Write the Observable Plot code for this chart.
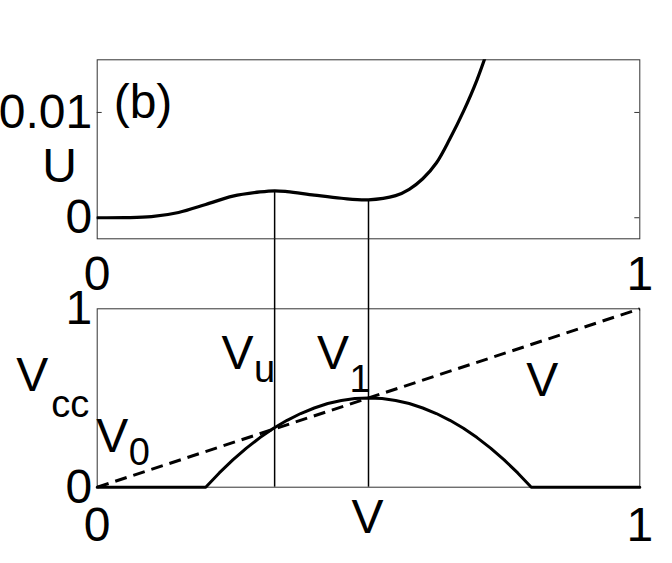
<!DOCTYPE html>
<html>
<head>
<meta charset="utf-8">
<script src="https://cdn.jsdelivr.net/npm/d3@7"></script>
<script src="https://cdn.jsdelivr.net/npm/@observablehq/plot@0.6"></script>
<style>
  body { margin: 0; background: #fff; }
  #chart { position: relative; width: 672px; height: 563px; }
  #chart svg { position: absolute; left: 0; top: 0; }
</style>
</head>
<body>
<div id="chart"></div>
<script>
// ---- Data ----
// Top panel: potential U(V)
const uV = [0, 0.05, 0.1, 0.15, 0.2, 0.25, 0.3, 0.327, 0.35, 0.4, 0.45, 0.5, 0.55, 0.575, 0.6, 0.625, 0.65, 0.675, 0.7, 0.73];
const uU = [0, 0.00001, 0.0001, 0.0005, 0.00126, 0.00205, 0.00245, 0.00256, 0.00248, 0.00215, 0.00185, 0.0017, 0.0021, 0.0027, 0.0037, 0.0052, 0.0075, 0.0101, 0.0131, 0.0175];
// Extrema where the vertical guide lines are drawn (V_u, V_1)
const extremaV = [0.327, 0.5];
const extremaU = [0.00256, 0.0017];
// Bottom panel: V_cc(V) solid curve
const vccV = [0, 0.2, 0.225, 0.25, 0.275, 0.3, 0.325, 0.35, 0.375, 0.4, 0.425, 0.45, 0.475, 0.5, 0.525, 0.55, 0.575, 0.6, 0.625, 0.65, 0.675, 0.7, 0.725, 0.75, 0.775, 0.8, 1];
const vccY = [0, 0, 0.08, 0.153, 0.219, 0.278, 0.33, 0.375, 0.413, 0.444, 0.469, 0.486, 0.497, 0.5, 0.497, 0.486, 0.469, 0.444, 0.413, 0.375, 0.33, 0.278, 0.219, 0.153, 0.08, 0, 0];
// Bottom panel: dashed diagonal V_cc = V
const diagV = [0, 1];
const diagY = [0, 1];
// Axes
const topYDomain = [-0.002, 0.015];
const topYTicks = [0, 0.01];
const topYTickLabels = ["0", "0.01"];
const xTicks = [0, 1];
const xTickLabels = ["0", "1"];
const botYTicks = [0, 1];
const botYTickLabels = ["0", "1"];

// ---- Tables ----
const uData = uV.map((v, i) => ({V: v, U: uU[i]}));
const extrema = extremaV.map((v, i) => ({V: v, U: extremaU[i]}));
const vccData = vccV.map((v, i) => ({V: v, Vcc: vccY[i]}));
const diagData = diagV.map((v, i) => ({V: v, Vcc: diagY[i]}));

const font = '"Liberation Sans", Arial, Helvetica, sans-serif';
const W = 672, mL = 96.7, mR = 32.7;
const frameColor = "#333";
const svgStyle = {background: "transparent", fontFamily: font, fontSize: "48px", color: "#000", overflow: "visible"};

function label(t, anchor, dx, dy, size, textAnchor = "middle") {
  return Plot.text([t], {text: d => d, frameAnchor: anchor, dx, dy, fontSize: size,
    textAnchor, lineAnchor: "middle", fill: "#000", fontFamily: font});
}

const topPlot = Plot.plot({
  width: W, height: 300,
  marginLeft: mL, marginRight: mR, marginTop: 59.3, marginBottom: 61.7,
  style: svgStyle,
  x: {domain: [0, 1], ticks: xTicks, tickFormat: d => xTickLabels[xTicks.indexOf(d)], tickSize: 0, tickPadding: 17, label: null},
  y: {domain: topYDomain, ticks: topYTicks, tickFormat: d => topYTickLabels[topYTicks.indexOf(d)], tickSize: 0, tickPadding: 5, label: null},
  marks: [
    Plot.frame({stroke: frameColor, strokeWidth: 1}),
    Plot.ruleY(topYTicks, {x1: 0, x2: 0, insetRight: -5, stroke: frameColor}),
    Plot.ruleY(topYTicks, {x1: 1, x2: 1, insetLeft: -5, stroke: frameColor}),
    Plot.ruleX(extrema, {x: "V", y1: "U", y2: topYDomain[0], stroke: "#000", strokeWidth: 1.5}),
    Plot.line(uData, {x: "V", y: "U", curve: "catmull-rom", stroke: "#000", strokeWidth: 3.2, clip: true}),
    label("(b)", "top-left", 45.8, 42.7, 48),
    label("U", "left", -37.7, 17.2, 48)
  ]
});

// Subscripted labels: "main_sub" -> main text with a smaller, lowered tspan
const subShift = {
  "V_cc": [3, 26.4],
  "V_u": [0.5, 12.7],
  "V_1": [0.5, 22.2],
  "V_0": [0.5, 13]
};

const botPlot = Plot.plot({
  width: W, height: 563,
  marginLeft: mL, marginRight: mR, marginTop: 308.3, marginBottom: 76.3,
  style: svgStyle,
  x: {domain: [0, 1], ticks: xTicks, tickFormat: d => xTickLabels[xTicks.indexOf(d)], tickSize: 0, tickPadding: 20, label: null},
  y: {domain: [0, 1], ticks: botYTicks, tickFormat: d => botYTickLabels[botYTicks.indexOf(d)], tickSize: 0, tickPadding: 5, label: null},
  marks: [
    Plot.frame({stroke: frameColor, strokeWidth: 1}),
    Plot.ruleX(extrema, {x: "V", y1: 1, y2: 0, insetTop: -70, stroke: "#000", strokeWidth: 1.5}),
    Plot.line(diagData, {x: "V", y: "Vcc", stroke: "#000", strokeWidth: 3, strokeDasharray: "12,7", strokeLinecap: "butt"}),
    Plot.line(vccData, {x: "V", y: "Vcc", stroke: "#000", strokeWidth: 3}),
    label("V_cc", "top-left", -81, 66.8, 48, "start"),
    label("V_u", "top-left", 124.3, 45.2, 48, "start"),
    label("V_1", "top-left", 219.7, 45.2, 48, "start"),
    label("V_0", "top-left", -1, 127.7, 48, "start"),
    label("V", "top-left", 445, 71.8, 48),
    label("V", "bottom", -1, 30.6, 48)
  ]
});

botPlot.querySelectorAll("text").forEach(t => {
  const s = t.textContent;
  if (!(s in subShift)) return;
  const [main, sub] = s.split("_");
  const [sdx, sdy] = subShift[s];
  t.textContent = main;
  const ts = document.createElementNS("http://www.w3.org/2000/svg", "tspan");
  ts.setAttribute("dx", sdx);
  ts.setAttribute("dy", sdy);
  ts.setAttribute("font-size", 38);
  ts.textContent = sub;
  t.appendChild(ts);
});

const chart = document.getElementById("chart");
chart.appendChild(topPlot);
chart.appendChild(botPlot);
</script>
</body>
</html>
